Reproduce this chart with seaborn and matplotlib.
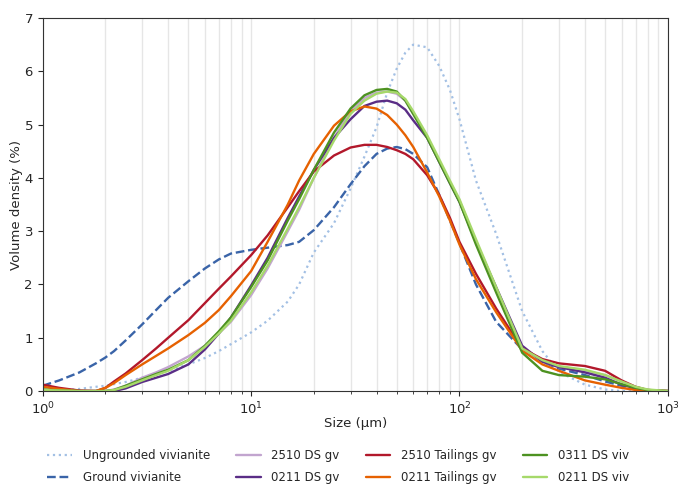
import numpy as np
import pandas as pd
import matplotlib
matplotlib.use("Agg")
import matplotlib.pyplot as plt
import seaborn as sns

# particle size grid (µm)
size = [1, 1.2, 1.5, 1.8, 2, 2.2, 2.5, 3, 3.5, 4, 5, 6, 7, 8, 10, 12, 15, 17, 20, 25,
        30, 35, 40, 45, 50, 55, 60, 70, 80, 90, 100, 120, 150, 200, 250, 300, 400, 500,
        600, 700, 800, 1000]

ungrounded = [0, 0.01, 0.04, 0.08, 0.1, 0.13, 0.17, 0.25, 0.32, 0.38, 0.5, 0.62, 0.75, 0.88,
              1.1, 1.32, 1.68, 2.0, 2.6, 3.15, 3.8, 4.4, 4.95, 5.6, 6.05, 6.35, 6.5, 6.45,
              6.1, 5.65, 5.1, 3.95, 2.95, 1.5, 0.75, 0.36, 0.12, 0.03, 0, 0, 0, 0]
ground = [0.1, 0.2, 0.35, 0.52, 0.63, 0.75, 0.95, 1.25, 1.52, 1.75, 2.06, 2.3, 2.47, 2.58,
          2.65, 2.69, 2.74, 2.8, 3.02, 3.45, 3.88, 4.22, 4.45, 4.55, 4.58, 4.54, 4.45, 4.2,
          3.68, 3.2, 2.77, 2.0, 1.3, 0.78, 0.55, 0.42, 0.3, 0.18, 0.1, 0.04, 0.01, 0]
ds_2510_gv = [0.02, 0.01, 0, 0, 0, 0.03, 0.1, 0.25, 0.35, 0.45, 0.65, 0.85, 1.08, 1.3, 1.8,
              2.3, 3.0, 3.4, 4.0, 4.75, 5.25, 5.5, 5.6, 5.62, 5.58, 5.45, 5.2, 4.78, 4.3,
              3.92, 3.58, 2.8, 1.9, 0.8, 0.55, 0.45, 0.38, 0.3, 0.18, 0.08, 0.02, 0]
ds_0211_gv = [0, 0, 0, 0, 0, 0, 0.05, 0.17, 0.25, 0.32, 0.5, 0.78, 1.08, 1.38, 1.98, 2.5,
              3.25, 3.65, 4.15, 4.75, 5.1, 5.35, 5.43, 5.45, 5.4, 5.28, 5.08, 4.75, 4.3,
              3.9, 3.55, 2.8, 1.95, 0.85, 0.55, 0.45, 0.35, 0.25, 0.12, 0.05, 0.01, 0]
tail_2510_gv = [0.12, 0.06, 0.01, 0, 0.06, 0.18, 0.33, 0.58, 0.8, 1.0, 1.33, 1.65, 1.92,
                2.15, 2.55, 2.92, 3.45, 3.75, 4.12, 4.42, 4.57, 4.62, 4.62, 4.58, 4.52,
                4.45, 4.35, 4.05, 3.68, 3.25, 2.8, 2.2, 1.55, 0.8, 0.6, 0.52, 0.47, 0.38,
                0.2, 0.08, 0.02, 0]
tail_0211_gv = [0.08, 0.04, 0, 0, 0.06, 0.15, 0.3, 0.5, 0.66, 0.8, 1.05, 1.28, 1.52, 1.78,
                2.25, 2.8, 3.5, 3.95, 4.45, 4.98, 5.25, 5.34, 5.3, 5.18, 5.0, 4.8, 4.58,
                4.1, 3.65, 3.2, 2.75, 2.1, 1.48, 0.76, 0.5, 0.38, 0.2, 0.12, 0.06, 0.02, 0, 0]
ds_0311_viv = [0.03, 0.01, 0, 0, 0, 0.02, 0.1, 0.22, 0.32, 0.4, 0.58, 0.85, 1.12, 1.38,
               1.95, 2.45, 3.2, 3.6, 4.15, 4.85, 5.3, 5.55, 5.65, 5.67, 5.62, 5.45, 5.2,
               4.75, 4.3, 3.9, 3.55, 2.75, 1.85, 0.72, 0.38, 0.3, 0.27, 0.22, 0.13, 0.06,
               0.02, 0]
ds_0211_viv = [0.02, 0.01, 0, 0, 0, 0.02, 0.08, 0.2, 0.3, 0.38, 0.58, 0.83, 1.08, 1.32,
               1.85, 2.35, 3.05, 3.45, 4.0, 4.7, 5.2, 5.45, 5.58, 5.62, 5.6, 5.48, 5.25,
               4.8, 4.35, 3.95, 3.6, 2.85, 1.95, 0.8, 0.58, 0.47, 0.4, 0.3, 0.18, 0.08,
               0.03, 0]

series = [
    ("Ungrounded vivianite", ungrounded, "#a3c0e4", ":", 1.6),
    ("Ground vivianite", ground, "#3a64a8", "--", 1.7),
    ("2510 DS gv", ds_2510_gv, "#c2a5cf", "-", 1.7),
    ("0211 DS gv", ds_0211_gv, "#5a2d86", "-", 1.7),
    ("2510 Tailings gv", tail_2510_gv, "#b2182b", "-", 1.7),
    ("0211 Tailings gv", tail_0211_gv, "#e66101", "-", 1.7),
    ("0311 DS viv", ds_0311_viv, "#4d9221", "-", 1.7),
    ("0211 DS viv", ds_0211_viv, "#a6d96a", "-", 1.7),
]

sns.set_style("ticks")
plt.rcParams['font.family'] = ['DejaVu Sans']

fig = plt.figure(figsize=(6.78, 4.87), dpi=100)
ax = fig.add_axes([0.063, 0.197, 0.922, 0.766])

for name, vals, col, ls, lw in series:
    sns.lineplot(x=size, y=vals, ax=ax, color=col, linestyle=ls, linewidth=lw,
                 label=name)

ax.set_xscale("log")
ax.set_xlim(1, 1000)
ax.set_ylim(0, 7)
ax.grid(True, which="both", axis="x", color="#e6e6e6", linewidth=1)
ax.set_axisbelow(True)
ax.set_xlabel("Size (µm)", fontsize=9.5, labelpad=0)
ax.set_ylabel("Volume density (%)", fontsize=9.5, labelpad=1)
ax.tick_params(labelsize=9.5)
for s in ax.spines.values():
    s.set_color("#333333")

ax.legend(loc="upper left", bbox_to_anchor=(0.054, 0.100), bbox_transform=fig.transFigure,
          ncol=4, frameon=False, fontsize=8.5, handlelength=2.1, handletextpad=0.9,
          columnspacing=2.2, labelspacing=0.8)

fig.savefig("out.png", dpi=100)
